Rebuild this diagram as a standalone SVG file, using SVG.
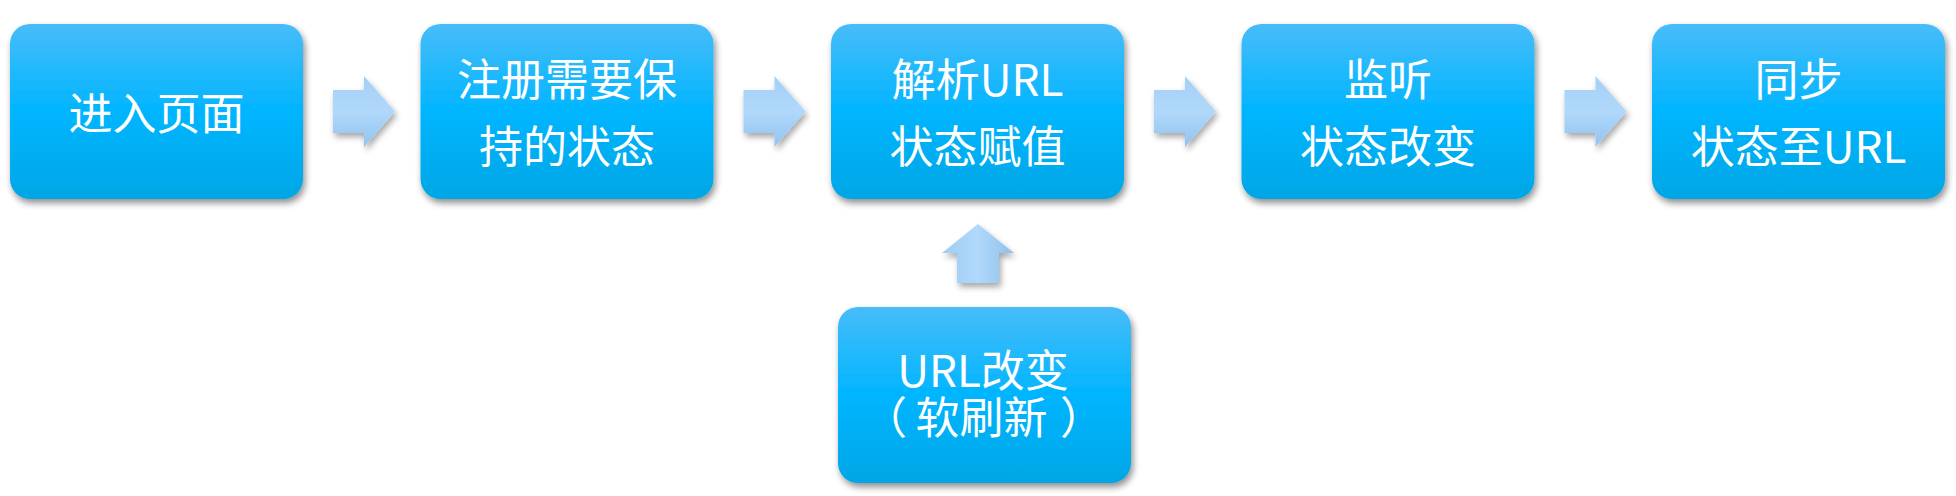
<svg xmlns="http://www.w3.org/2000/svg" width="1956" height="496" viewBox="0 0 1956 496">
<defs>
<linearGradient id="boxg" x1="0" y1="0" x2="0" y2="1">
<stop offset="0" stop-color="#48BCF9"/>
<stop offset="0.5" stop-color="#00B5FF"/>
<stop offset="1" stop-color="#00A6E5"/>
</linearGradient>
<linearGradient id="arrh" x1="0" y1="0" x2="0" y2="1">
<stop offset="0" stop-color="#A4D0F6"/>
<stop offset="0.5" stop-color="#B0D8FA"/>
<stop offset="1" stop-color="#92C3EE"/>
</linearGradient>
<linearGradient id="arrv" x1="0" y1="0" x2="1" y2="0">
<stop offset="0" stop-color="#A0CDF4"/>
<stop offset="0.5" stop-color="#B0D8FA"/>
<stop offset="1" stop-color="#8EC0EC"/>
</linearGradient>
<filter id="sh" x="-10%" y="-10%" width="125%" height="130%">
<feGaussianBlur in="SourceAlpha" stdDeviation="3.5"/>
<feOffset dx="2" dy="4" result="b"/>
<feComponentTransfer><feFuncA type="linear" slope="0.45"/></feComponentTransfer>
<feMerge><feMergeNode/><feMergeNode in="SourceGraphic"/></feMerge>
</filter>
<filter id="ash" x="-20%" y="-20%" width="150%" height="150%">
<feGaussianBlur in="SourceAlpha" stdDeviation="3"/>
<feOffset dx="2" dy="4" result="b"/>
<feComponentTransfer><feFuncA type="linear" slope="0.35"/></feComponentTransfer>
<feMerge><feMergeNode/><feMergeNode in="SourceGraphic"/></feMerge>
</filter>
</defs>
<style>
.box{fill:url(#boxg);filter:url(#sh)}
.t{font-family:"Noto Sans CJK SC","Noto Sans",sans-serif;font-size:44px;fill:#FFFFFF;text-anchor:middle}
.ah{fill:url(#arrh);filter:url(#ash)}
.av{fill:url(#arrv);filter:url(#ash)}
</style>
<rect width="1956" height="496" fill="#FFFFFF"/>
<g id="connectors">
<path class="ah" d="M333,90 H364 V76 L395,111.5 L364,147 V133 H333 Z"/>
<path class="ah" d="M743.5,90 H774.5 V76 L805.5,111.5 L774.5,147 V133 H743.5 Z"/>
<path class="ah" d="M1154,90 H1185 V76 L1216,111.5 L1185,147 V133 H1154 Z"/>
<path class="ah" d="M1564.5,90 H1595.5 V76 L1626.5,111.5 L1595.5,147 V133 H1564.5 Z"/>
<path class="av" d="M957,283 V253 H942 L978,224 L1014,253 H999 V283 Z"/>
</g>
<g id="n1">
<rect class="box" x="10" y="24" width="293" height="175" rx="20"/>
<text class="t" x="156.5" y="130">进入页面</text>
</g>
<g id="n2">
<rect class="box" x="420.5" y="24" width="293" height="175" rx="20"/>
<text class="t" x="567" y="96">注册需要保</text>
<text class="t" x="567" y="163">持的状态</text>
</g>
<g id="n3">
<rect class="box" x="831" y="24" width="293" height="175" rx="20"/>
<text class="t" x="977.5" y="96">解析URL</text>
<text class="t" x="977.5" y="163">状态赋值</text>
</g>
<g id="n4">
<rect class="box" x="1241.5" y="24" width="293" height="175" rx="20"/>
<text class="t" x="1388" y="96">监听</text>
<text class="t" x="1388" y="163">状态改变</text>
</g>
<g id="n5">
<rect class="box" x="1652" y="24" width="293" height="175" rx="20"/>
<text class="t" x="1798.5" y="96">同步</text>
<text class="t" x="1798.5" y="163">状态至URL</text>
</g>
<g id="n6">
<rect class="box" x="838" y="307" width="293" height="176" rx="20"/>
<text class="t" x="983" y="387">URL改变</text>
<text class="t" y="434"><tspan x="885">（</tspan><tspan x="981.5">软刷新</tspan><tspan x="1082">）</tspan></text>
</g>
</svg>
